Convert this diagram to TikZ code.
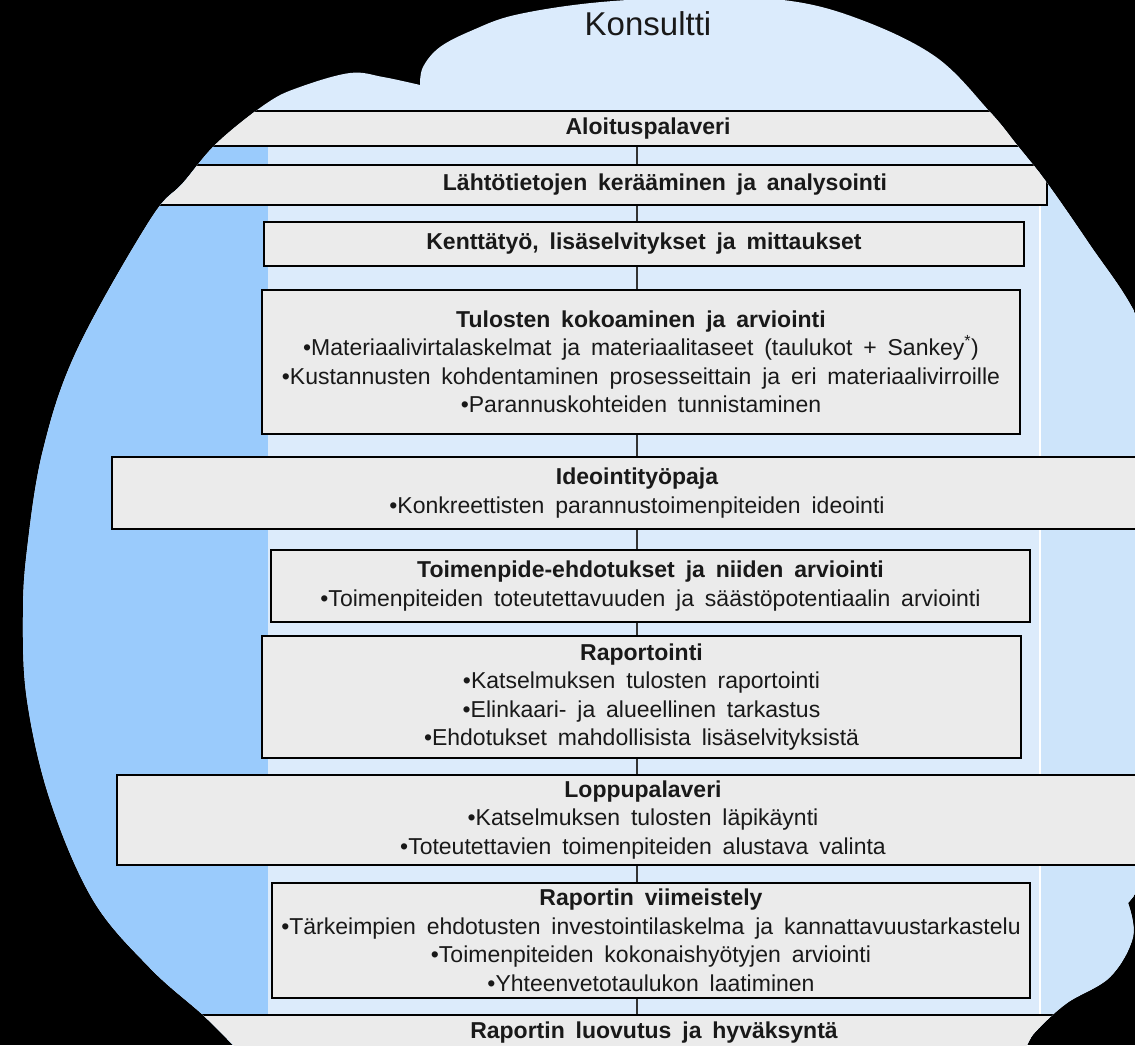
\documentclass[tikz,border=0pt]{standalone}
\usepackage{fontspec}
\setmainfont{Liberation Sans}[WordSpace=1.7]
\definecolor{skytop}{RGB}{219,235,252}
\definecolor{laneleft}{RGB}{154,203,252}
\definecolor{lanemid}{RGB}{220,235,251}
\definecolor{laneright}{RGB}{205,228,250}
\definecolor{boxgray}{RGB}{235,235,235}
\begin{document}
\begin{tikzpicture}[x=1pt,y=-1pt,
    stage/.style={draw=black, line width=2.3pt, fill=boxgray, align=center,
      inner sep=0pt, text=black!90, font=\fontsize{23}{28.5}\selectfont},
    link/.style={draw=black!80, line width=1.4pt}]
  \useasboundingbox (0,0) rectangle (1135,1045);
  \fill[black] (0,0) rectangle (1135,1045);
  \begin{scope}
    % cloud outline
    \clip plot[smooth, tension=0.6] coordinates {(420,85) (423,67) (440,47) (473,30)
        (515,15) (591,3) (680,-2) (783,0) (859,19) (936,57) (990,112) (1017,145)
        (1047,183) (1090,245) (1135,313) (1170,400) (1190,600) (1175,800) (1150,870) (1128,903)}
      -- plot[smooth, tension=0.6] coordinates {(1128,903) (1133,937) (1110,977)
        (1067,1003) (1037,1030) (1027,1045) (1010,1080)}
      -- (600,1100) -- (265,1075)
      -- plot[smooth, tension=0.6] coordinates {(233,1045) (203,1015) (150,968) (93,900) (50,800)
        (27,700) (23,617) (27,550) (43,450) (77,350) (150,220) (183,183) (217,143)
        (267,103) (300,87) (350,73) (383,77) (420,85)} -- cycle;
    \fill[skytop] (0,0) rectangle (1135,1045);
    \fill[laneleft] (0,146) rectangle (268,1045);
    \fill[lanemid] (268,146) rectangle (1040,1045);
    \fill[laneright] (1040,146) rectangle (1135,1045);
    \draw[white, line width=1.2pt] (1040,146) -- (1040,1045);

    \node[text=black!90, font=\fontsize{33}{38}\selectfont] (konsultti) at (648,24) {Konsultti};

    \node[stage, minimum width=896, minimum height=35] (aloitus) at (648,128.5)
      {\bfseries Aloituspalaveri};
    \node[stage, minimum width=947, minimum height=40] (lahto) at (573.5,185)
      {\hspace*{183pt}\bfseries Lähtötietojen kerääminen ja analysointi};
    \node[stage, minimum width=760, minimum height=44] (kentta) at (644,244)
      {\bfseries Kenttätyö, lisäselvitykset ja mittaukset};
    \node[stage, minimum width=758, minimum height=144] (tulokset) at (641,362)
      {{\bfseries Tulosten kokoaminen ja arviointi}\\
       •Materiaalivirtalaskelmat ja materiaalitaseet (taulukot + Sankey\textsuperscript{*})\\
       •Kustannusten kohdentaminen prosesseittain ja eri materiaalivirroille\\
       •Parannuskohteiden tunnistaminen};
    \node[stage, minimum width=1050, minimum height=72] (ideointi) at (637,493)
      {{\bfseries Ideointityöpaja}\\
       •Konkreettisten parannustoimenpiteiden ideointi};
    \node[stage, minimum width=759, minimum height=72] (ehdotus) at (650.5,586)
      {{\bfseries Toimenpide-ehdotukset ja niiden arviointi}\\
       •Toimenpiteiden toteutettavuuden ja säästöpotentiaalin arviointi};
    \node[stage, minimum width=759, minimum height=122] (raportointi) at (641.5,697)
      {{\bfseries Raportointi}\\
       •Katselmuksen tulosten raportointi\\
       •Elinkaari- ja alueellinen tarkastus\\
       •Ehdotukset mahdollisista lisäselvityksistä};
    \node[stage, minimum width=1052, minimum height=90] (loppu) at (643,820)
      {{\bfseries Loppupalaveri}\\
       •Katselmuksen tulosten läpikäynti\\
       •Toteutettavien toimenpiteiden alustava valinta};
    \node[stage, minimum width=758, minimum height=115] (viimeistely) at (651,940.5)
      {{\bfseries Raportin viimeistely}\\
       •Tärkeimpien ehdotusten investointilaskelma ja kannattavuustarkastelu\\
       •Toimenpiteiden kokonaishyötyjen arviointi\\
       •Yhteenvetotaulukon laatiminen};
    \node[stage, minimum width=1008, minimum height=36] (luovutus) at (654,1033)
      {\bfseries Raportin luovutus ja hyväksyntä};

    \coordinate (spine) at (637,0);
    \begin{scope}[link]
      \draw (aloitus.south -| spine) to (lahto.north -| spine);
      \draw (lahto.south -| spine) to (kentta.north -| spine);
      \draw (kentta.south -| spine) to (tulokset.north -| spine);
      \draw (tulokset.south -| spine) to (ideointi.north -| spine);
      \draw (ideointi.south -| spine) to (ehdotus.north -| spine);
      \draw (ehdotus.south -| spine) to (raportointi.north -| spine);
      \draw (raportointi.south -| spine) to (loppu.north -| spine);
      \draw (loppu.south -| spine) to (viimeistely.north -| spine);
      \draw (viimeistely.south -| spine) to (luovutus.north -| spine);
    \end{scope}
  \end{scope}
\end{tikzpicture}
\end{document}
